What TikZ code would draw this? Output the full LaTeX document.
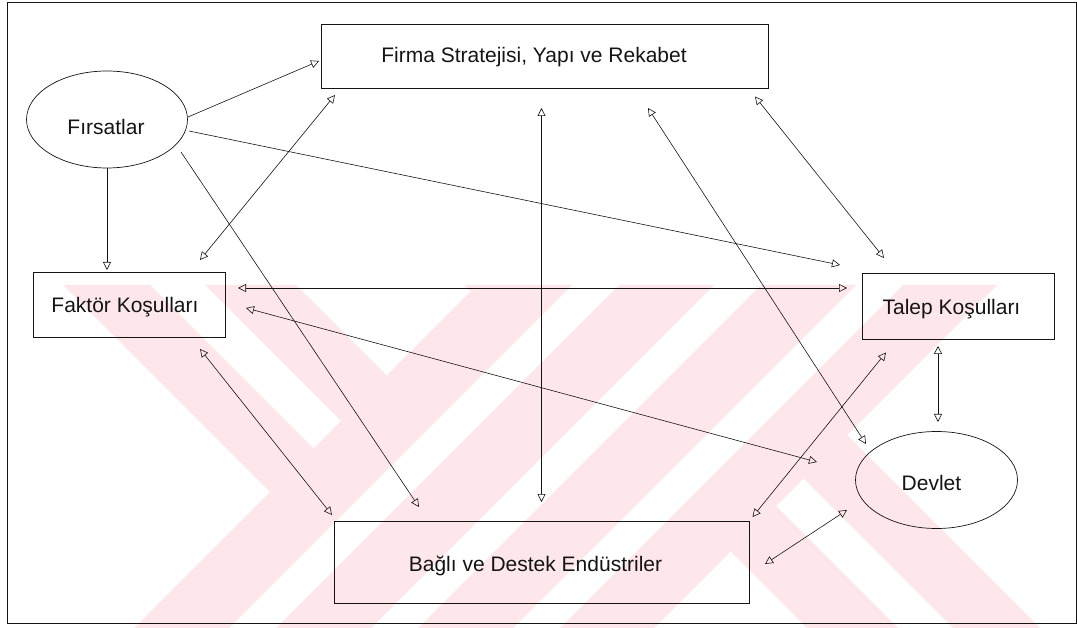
\documentclass[tikz,border=0pt]{standalone}
\usepackage{fontspec}
\setmainfont{Liberation Sans}
\usetikzlibrary{arrows.meta,shapes.geometric,calc}
\definecolor{wmpink}{RGB}{253,231,235}
\definecolor{ink}{RGB}{20,20,20}
\begin{document}
\begin{tikzpicture}[x=1pt,y=-1pt,
  box/.style={draw=ink, rectangle, inner sep=0pt, outer sep=0pt, line width=0.9pt},
  oval/.style={draw=ink, ellipse, inner sep=0pt, outer sep=0pt, line width=0.7pt},
  caption/.style={font=\fontsize{21}{25}\selectfont, text=ink, inner sep=0pt,
    text height=15pt, text depth=0pt},
  oneway/.style={draw=ink, line width=0.6pt, -{Triangle[open,length=8pt,width=8pt]}},
  twoway/.style={draw=ink, line width=0.6pt, {Triangle[open,length=8pt,width=8pt]}-{Triangle[open,length=8pt,width=8pt]}},
]
\useasboundingbox (0,0) rectangle (1077,628);

% background emblem: striped X in pale pink
\begin{scope}
  \clip (0,285) rectangle (1077,628);
  % stripes running down-right (x - y = const)
  \foreach \a/\b in {-222/-135, -80/11, 179/270, 325/412} {
    \fill[wmpink] (\a+285,285) -- (\b+285,285) -- (\b+628,628) -- (\a+628,628) -- cycle;
  }
  % the rising arm lies on top
  \fill[white] (477,285) -- (997,285) -- (654,628) -- (134,628) -- cycle;
  % stripes running up-right (x + y = const)
  \foreach \a/\b in {762/857, 904/999, 1046/1141, 1188/1282} {
    \fill[wmpink] (\a-285,285) -- (\b-285,285) -- (\b-628,628) -- (\a-628,628) -- cycle;
  }
\end{scope}

% outer frame
\draw[ink, line width=1pt] (7,3) rectangle (1076.5,623);

% nodes
\node[box, minimum width=447pt, minimum height=64pt,
  label={[caption, xshift=-10.5pt, yshift=0.5pt]center:Firma Stratejisi, Yapı ve Rekabet}]
  (firma) at (544.5,56) {};
\node[oval, minimum width=161pt, minimum height=97pt,
  label={[caption, xshift=-1pt, yshift=-8pt]center:Fırsatlar}]
  (firsat) at (107,119.5) {};
\node[box, minimum width=192pt, minimum height=65pt,
  label={[caption, xshift=-4pt, yshift=-1pt]center:Faktör Koşulları}]
  (faktor) at (129,304.5) {};
\node[box, minimum width=192pt, minimum height=66pt,
  label={[caption, xshift=-6.5pt, yshift=-1pt]center:Talep Koşulları}]
  (talep) at (958,306) {};
\node[box, minimum width=415pt, minimum height=82pt,
  label={[caption, xshift=-6pt, yshift=-1.5pt]center:Bağlı ve Destek Endüstriler}]
  (bagli) at (541.5,562) {};
\node[oval, minimum width=162pt, minimum height=97pt,
  label={[caption, xshift=-5pt, yshift=-2.5pt]center:Devlet}]
  (devlet) at (936.5,480) {};

% one-way influences
\draw[oneway] ($(firsat.center)+(81,-2.5)$) -- ($(firma.center)+(-225.5,5)$);
\draw[oneway] ($(firsat.center)+(0,48.5)$) -- ($(firsat.center)+(0,150.5)$);
\draw[oneway] ($(firsat.center)+(82,11.5)$) -- ($(talep.center)+(-118,-41)$);
\draw[oneway] ($(firsat.center)+(74,32.5)$) -- ($(bagli.center)+(-122.5,-55)$);

% mutual influences
\draw[twoway] ($(faktor.center)+(71,-44.5)$) -- ($(firma.center)+(-209.5,39)$);
\draw[twoway] ($(firma.center)+(-3,52)$) -- ($(bagli.center)+(0,-60)$);
\draw[twoway] ($(firma.center)+(103.5,52)$) -- ($(devlet.center)+(-70.5,-36)$);
\draw[twoway] ($(firma.center)+(210.5,40.5)$) -- ($(talep.center)+(-74,-48)$);
\draw[twoway] ($(faktor.center)+(109,-16.5)$) -- ($(talep.center)+(-111,-18)$);
\draw[twoway] ($(faktor.center)+(117,3.5)$) -- ($(devlet.center)+(-119.5,-18)$);
\draw[twoway] ($(faktor.center)+(71,44.5)$) -- ($(bagli.center)+(-209.5,-47)$);
\draw[twoway] ($(bagli.center)+(211,-45)$) -- ($(talep.center)+(-72,46.5)$);
\draw[twoway] ($(talep.center)+(-20,40)$) -- ($(devlet.center)+(1.5,-58)$);
\draw[twoway] ($(bagli.center)+(223.5,2)$) -- ($(devlet.center)+(-89.5,30)$);
\end{tikzpicture}
\end{document}
